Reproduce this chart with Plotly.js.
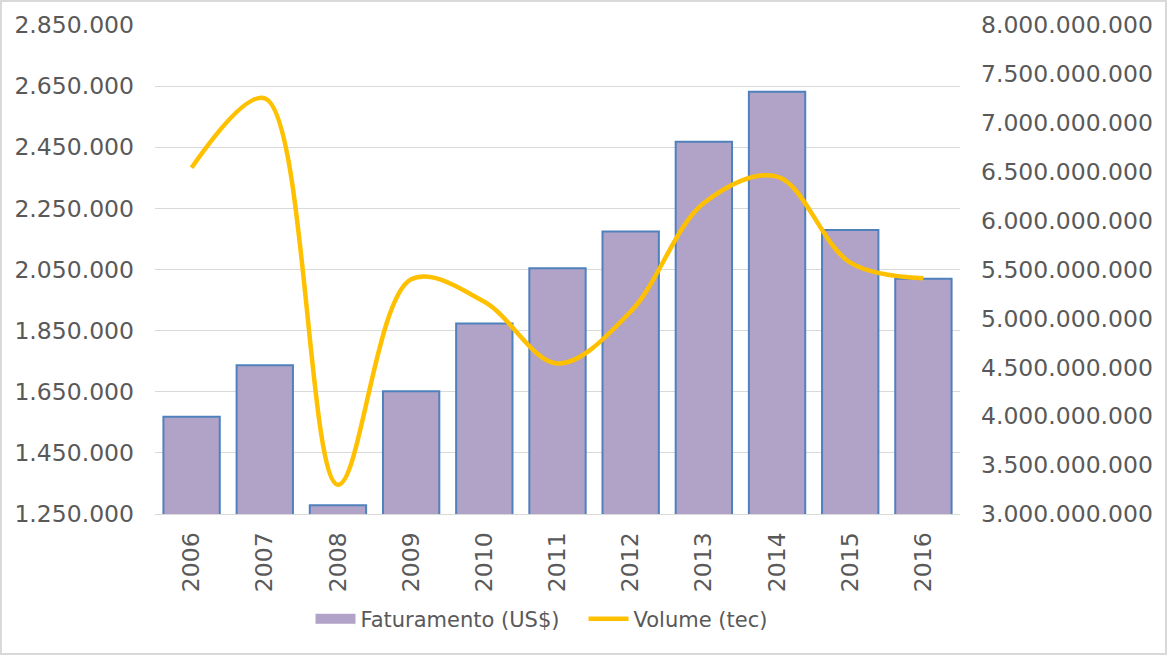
<!DOCTYPE html>
<html>
<head>
<meta charset="utf-8">
<script src="https://cdn.plot.ly/plotly-3.0.1.min.js"></script>
<style>
  body { margin: 0; background: #fff; }
  #chart { width: 1163px; height: 651px; border: 2px solid #d9d9d9; }
</style>
</head>
<body>
<div id="chart"></div>
<script>
// years on the category axis
var years = ['2006', '2007', '2008', '2009', '2010', '2011', '2012', '2013', '2014', '2015', '2016'];
// Faturamento (US$), left axis
var faturamento = [1568000, 1737000, 1279000, 1652000, 1873000, 2054000, 2174000, 2468000, 2632000, 2179000, 2020000];
// Volume (tec), right axis
var volume = [6540000000, 7250000000, 3300000000, 5400000000, 5170000000, 4540000000, 5070000000, 6180000000, 6450000000, 5570000000, 5410000000];

var leftTicks = [1250000, 1450000, 1650000, 1850000, 2050000, 2250000, 2450000, 2650000, 2850000];
var leftLabels = ['1.250.000', '1.450.000', '1.650.000', '1.850.000', '2.050.000', '2.250.000', '2.450.000', '2.650.000', '2.850.000'];
var rightTicks = [3e9, 3.5e9, 4e9, 4.5e9, 5e9, 5.5e9, 6e9, 6.5e9, 7e9, 7.5e9, 8e9];
var rightLabels = ['3.000.000.000', '3.500.000.000', '4.000.000.000', '4.500.000.000', '5.000.000.000',
  '5.500.000.000', '6.000.000.000', '6.500.000.000', '7.000.000.000', '7.500.000.000', '8.000.000.000'];

var txt = { family: 'DejaVu Sans, Verdana, sans-serif', size: 23.5, color: '#595959' };

var bars = {
  x: years,
  y: faturamento,
  type: 'bar',
  name: 'Faturamento (US$)',
  legendgroup: 'fat',
  showlegend: false,
  marker: { color: '#b1a2c7', line: { color: '#4f81bd', width: 2 } },
  hoverinfo: 'x+y'
};

// legend entry only: gives the wide swatch of the original
var barKey = {
  x: [years[0]],
  y: [null],
  type: 'scatter',
  mode: 'lines',
  name: 'Faturamento (US$)',
  legendgroup: 'fat',
  line: { color: '#b1a2c7', width: 12 },
  hoverinfo: 'skip'
};

var line = {
  x: years,
  y: volume,
  type: 'scatter',
  mode: 'lines',
  name: 'Volume (tec)',
  yaxis: 'y2',
  line: { color: '#ffc000', width: 4.5, shape: 'spline', smoothing: 1 }
};

var layout = {
  width: 1163,
  height: 651,
  margin: { l: 153, r: 205, t: 23, b: 139 },
  paper_bgcolor: '#fff',
  plot_bgcolor: '#fff',
  font: txt,
  bargap: 0.23,
  showlegend: true,
  legend: {
    orientation: 'h',
    x: 0.5, xref: 'container', xanchor: 'center',
    y: 0.052, yref: 'container', yanchor: 'middle',
    font: { family: txt.family, size: 21, color: txt.color },
    itemwidth: 40,
    entrywidth: 218,
    traceorder: 'normal'
  },
  xaxis: {
    type: 'category',
    tickangle: -90,
    tickfont: txt,
    showgrid: false,
    showline: true,
    linecolor: '#d9d9d9',
    linewidth: 1,
    ticks: '',
    ticklabelstandoff: 8
  },
  yaxis: {
    range: [1250000, 2850000],
    tickvals: leftTicks,
    ticktext: leftLabels,
    tickfont: txt,
    gridcolor: '#d9d9d9',
    gridwidth: 1,
    zeroline: false,
    showline: false,
    ticks: '',
    ticklabelstandoff: 20
  },
  yaxis2: {
    overlaying: 'y',
    side: 'right',
    range: [3e9, 8e9],
    tickvals: rightTicks,
    ticktext: rightLabels,
    tickfont: txt,
    showgrid: false,
    zeroline: false,
    showline: false,
    ticks: '',
    ticklabelstandoff: 20
  }
};

Plotly.newPlot('chart', [bars, barKey, line], layout, { displayModeBar: false });
</script>
</body>
</html>
